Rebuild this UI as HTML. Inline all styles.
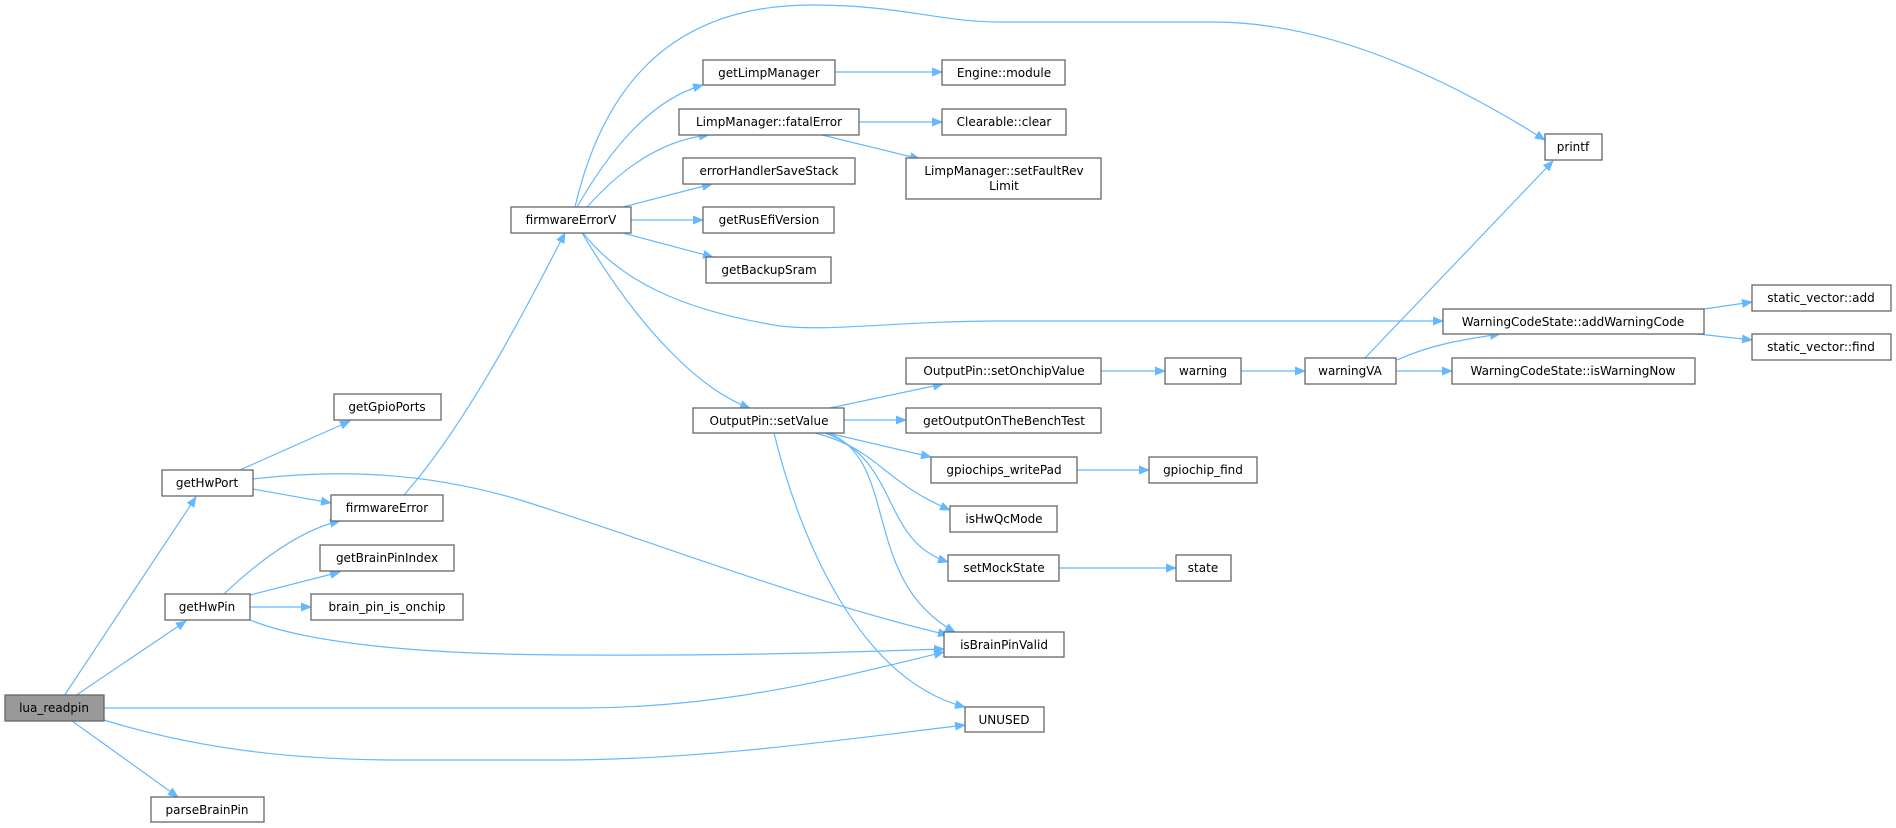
<!DOCTYPE html>
<html><head><meta charset="utf-8"><style>
html,body{margin:0;padding:0;background:#fff;width:1896px;height:828px;overflow:hidden}
svg{display:block}
text{font-family:"DejaVu Sans","Liberation Sans",sans-serif;font-size:12px;fill:#000}
.n{fill:#fff;stroke:#666;stroke-width:1.3}
.e{fill:none;stroke:#63b8ff;stroke-width:1.2}
</style></head><body>
<svg width="1896" height="828" viewBox="0 0 1896 828">
<defs><marker id="a" markerWidth="11" markerHeight="9" refX="10" refY="4.5" orient="auto" markerUnits="userSpaceOnUse"><path d="M0,0 L11,4.5 L0,9 Z" fill="#63b8ff"/></marker></defs>
<g class="e" marker-end="url(#a)">
<path d="M64,696 L196,497"/>
<path d="M75,696 L186,621"/>
<path d="M104,708 L580,708 C720,708 830,680 944,652"/>
<path d="M104,720 C200,750 300,760 400,760 L560,760 C700,760 840,740 965,725"/>
<path d="M72,721 L178,797"/>
<path d="M240,470 L350,421"/>
<path d="M253,489 L331,503"/>
<path d="M253,479 C330,470 420,470 520,500 C650,540 800,600 948,635"/>
<path d="M224,594 C260,560 300,530 340,521"/>
<path d="M250,595 L340,572"/>
<path d="M250,607 L311,607"/>
<path d="M250,620 C300,640 400,655 580,655 C740,656 850,652 944,649"/>
<path d="M404,495 C470,420 530,300 565,233"/>
<path d="M575,207 C600,100 660,5 812,5 C900,5 940,22 1000,22 L1213,22 C1330,22 1450,80 1545,140"/>
<path d="M577,207 C610,150 650,100 703,85"/>
<path d="M587,207 C620,170 660,140 709,135"/>
<path d="M623,207 L712,184"/>
<path d="M631,220 L703,220"/>
<path d="M623,233 L713,257"/>
<path d="M583,233 C620,280 680,310 780,326 C830,332 900,321 1000,321 L1443,321"/>
<path d="M582,233 C640,330 700,390 750,408"/>
<path d="M835,72 L942,72"/>
<path d="M859,122 L942,122"/>
<path d="M822,135 L920,159"/>
<path d="M830,408 L943,384"/>
<path d="M844,420 L906,420"/>
<path d="M828,433 L931,457"/>
<path d="M815,433 C880,450 880,480 950,510"/>
<path d="M825,433 C900,460 880,540 948,562"/>
<path d="M828,433 C900,460 860,580 955,632"/>
<path d="M774,433 C800,540 860,680 965,707"/>
<path d="M1101,371 L1165,371"/>
<path d="M1241,371 L1305,371"/>
<path d="M1365,358 L1553,161"/>
<path d="M1397,360 C1430,345 1460,340 1500,334"/>
<path d="M1396,371 L1452,371"/>
<path d="M1704,309 L1752,302"/>
<path d="M1698,334 L1752,340"/>
<path d="M1077,470 L1149,470"/>
<path d="M1059,568 L1176,568"/>
</g>
<g text-anchor="middle">
<rect class="n" x="5" y="695" width="99" height="26" style="fill:#999"/><text x="54" y="712">lua_readpin</text>
<rect class="n" x="162" y="470" width="91" height="26"/><text x="207" y="487">getHwPort</text>
<rect class="n" x="165" y="594" width="85" height="26"/><text x="207" y="611">getHwPin</text>
<rect class="n" x="151" y="797" width="113" height="25"/><text x="207" y="814">parseBrainPin</text>
<rect class="n" x="334" y="394" width="107" height="26"/><text x="387" y="411">getGpioPorts</text>
<rect class="n" x="331" y="495" width="112" height="26"/><text x="387" y="512">firmwareError</text>
<rect class="n" x="320" y="545" width="134" height="26"/><text x="387" y="562">getBrainPinIndex</text>
<rect class="n" x="311" y="594" width="152" height="26"/><text x="387" y="611">brain_pin_is_onchip</text>
<rect class="n" x="511" y="207" width="120" height="26"/><text x="571" y="224">firmwareErrorV</text>
<rect class="n" x="703" y="60" width="132" height="25"/><text x="769" y="77">getLimpManager</text>
<rect class="n" x="679" y="109" width="180" height="26"/><text x="769" y="126">LimpManager::fatalError</text>
<rect class="n" x="683" y="158" width="172" height="26"/><text x="769" y="175">errorHandlerSaveStack</text>
<rect class="n" x="703" y="207" width="131" height="26"/><text x="769" y="224">getRusEfiVersion</text>
<rect class="n" x="706" y="257" width="125" height="26"/><text x="769" y="274">getBackupSram</text>
<rect class="n" x="693" y="408" width="151" height="25"/><text x="769" y="425">OutputPin::setValue</text>
<rect class="n" x="942" y="60" width="123" height="25"/><text x="1004" y="77">Engine::module</text>
<rect class="n" x="942" y="109" width="124" height="26"/><text x="1004" y="126">Clearable::clear</text>
<rect class="n" x="906" y="158" width="195" height="41"/><text x="1004" y="175">LimpManager::setFaultRev</text><text x="1004" y="190">Limit</text>
<rect class="n" x="906" y="358" width="195" height="26"/><text x="1004" y="375">OutputPin::setOnchipValue</text>
<rect class="n" x="906" y="408" width="195" height="25"/><text x="1004" y="425">getOutputOnTheBenchTest</text>
<rect class="n" x="931" y="457" width="146" height="26"/><text x="1004" y="474">gpiochips_writePad</text>
<rect class="n" x="950" y="506" width="107" height="26"/><text x="1004" y="523">isHwQcMode</text>
<rect class="n" x="948" y="555" width="111" height="26"/><text x="1004" y="572">setMockState</text>
<rect class="n" x="944" y="632" width="120" height="25"/><text x="1004" y="649">isBrainPinValid</text>
<rect class="n" x="965" y="707" width="79" height="25"/><text x="1004" y="724">UNUSED</text>
<rect class="n" x="1149" y="457" width="108" height="26"/><text x="1203" y="474">gpiochip_find</text>
<rect class="n" x="1176" y="555" width="55" height="26"/><text x="1203" y="572">state</text>
<rect class="n" x="1165" y="358" width="76" height="26"/><text x="1203" y="375">warning</text>
<rect class="n" x="1305" y="358" width="91" height="26"/><text x="1350" y="375">warningVA</text>
<rect class="n" x="1545" y="134" width="57" height="26"/><text x="1573" y="151">printf</text>
<rect class="n" x="1443" y="309" width="261" height="25"/><text x="1573" y="326">WarningCodeState::addWarningCode</text>
<rect class="n" x="1452" y="358" width="243" height="26"/><text x="1573" y="375">WarningCodeState::isWarningNow</text>
<rect class="n" x="1752" y="285" width="139" height="26"/><text x="1821" y="302">static_vector::add</text>
<rect class="n" x="1752" y="334" width="139" height="26"/><text x="1821" y="351">static_vector::find</text>
</g>
</svg>
</body></html>
